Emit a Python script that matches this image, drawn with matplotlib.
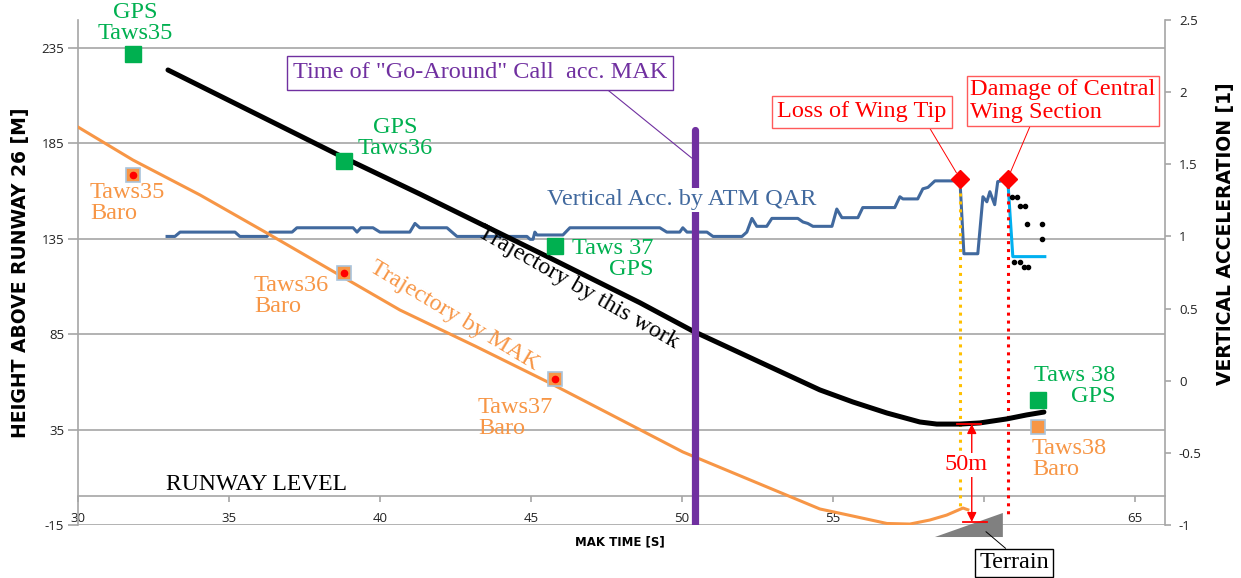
import matplotlib
matplotlib.use('Agg')
import matplotlib.pyplot as plt
from matplotlib.patches import Polygon

# ---------------- data ----------------
# Trajectory by this work (MAK time [s], height above RWY 26 [m])
work_t = [32.98, 38.81, 41.32, 45.63, 48.61, 50.36, 52.58, 54.57, 55.66, 56.79,
          57.88, 58.44, 59.21, 59.87, 60.76, 61.42, 61.99]
work_h = [223.5, 177.5, 158.5, 125.0, 101.5, 86.7, 70.4, 55.8, 49.5, 43.7,
          39.0, 37.9, 37.9, 38.5, 40.6, 42.7, 44.2]

# Trajectory by MAK
mak_t = [30.00, 31.82, 34.04, 36.26, 38.77, 40.66, 43.15, 45.63, 47.62, 50.03,
         52.58, 54.57, 55.66, 56.79, 57.55, 58.21, 58.77, 59.31, 59.47]
mak_h = [193.6, 176.3, 158.0, 138.0, 115.0, 97.7, 78.8, 59.4, 43.1, 23.3,
         6.5, -6.6, -10.3, -14.2, -14.5, -12.4, -9.8, -6.1, -7.0]

# Vertical acceleration by ATM QAR (right axis)
qar_t = [32.95, 33.21, 33.38, 35.20, 35.36, 36.26, 36.36, 37.09, 37.25, 39.11,
         39.24, 39.37, 39.77, 40.00, 40.99, 41.16, 41.32, 42.22, 42.55, 44.87,
         44.97, 45.07, 45.13, 45.20, 46.06, 46.29, 49.27, 49.50, 49.93, 50.03,
         50.17, 50.83, 51.03, 51.99, 52.15, 52.32, 52.48, 52.81, 52.98, 53.84,
         54.01, 54.17, 54.34, 54.97, 55.13, 55.30, 55.83, 55.99, 57.05, 57.22,
         57.32, 57.81, 57.98, 58.15, 58.38, 59.21, 59.34, 59.80, 59.97, 60.10,
         60.20, 60.36, 60.46, 60.70, 60.79]
qar_a = [1.00, 1.00, 1.03, 1.03, 1.00, 1.00, 1.03, 1.03, 1.06, 1.06,
         1.03, 1.06, 1.06, 1.03, 1.03, 1.09, 1.06, 1.06, 1.00, 1.00,
         0.98, 0.98, 1.03, 1.01, 1.01, 1.06, 1.06, 1.03, 1.03, 1.06,
         1.03, 1.03, 1.00, 1.00, 1.03, 1.125, 1.07, 1.07, 1.125, 1.125,
         1.10, 1.09, 1.07, 1.07, 1.19, 1.13, 1.13, 1.20, 1.20, 1.275,
         1.26, 1.26, 1.33, 1.34, 1.385, 1.385, 0.88, 0.88, 1.275, 1.24,
         1.31, 1.22, 1.38, 1.39, 1.40]

# after central wing damage
post_t = [60.79, 60.96, 62.02]
post_a = [1.40, 0.86, 0.86]
dots_t = [60.93, 61.09, 61.19, 61.36, 61.42, 61.92, 61.92, 61.00, 61.19, 61.33, 61.46]
dots_a = [1.275, 1.275, 1.21, 1.21, 1.085, 1.085, 0.98, 0.82, 0.82, 0.785, 0.785]

# events (loss of wing tip, damage of central wing section)
event_t = [59.21, 60.79]
event_a = [1.40, 1.40]
event_h_top = [163.0, 163.0]
event_h_bot = [-5.6, -9.8]

# TAWS points
gps_t = [31.82, 38.81, 45.79, 61.79]
gps_h = [231.9, 175.8, 131.2, 50.5]
baro_t = [31.82, 38.81, 45.79, 61.79]
baro_h = [168.2, 117.1, 61.5, 36.4]

go_around_t = 50.43
go_around_h = [-15, 192]

terrain_t = [58.38, 60.63, 60.63]
terrain_h = [-21.3, -8.7, -21.3]

min_t = 59.60
min_h = [37.9, -13.4]

xticks = [30, 35, 40, 45, 50, 55, 60, 65]
xticklabels = ['30', '35', '40', '45', '50', '55', '', '65']
yticks = [-15, 35, 85, 135, 185, 235]
y2ticks = [-1, -0.5, 0, 0.5, 1, 1.5, 2, 2.5]
y2ticklabels = ['-1', '-0.5', '0', '0.5', '1', '1.5', '2', '2.5']

# ---------------- style ----------------
GREEN = '#00B050'
ORANGE = '#F79646'
PURPLE = '#7030A0'
RED = '#FF0000'
BLUE = '#41699E'
CYAN = '#00B0F0'
GRID = '#A6A6A6'
SERIF = 'Liberation Serif'
FS = 17.5

W, H = 1241, 578
fig = plt.figure(figsize=(W / 100, H / 100), dpi=100)


def P(x, y):
    return (x / W, 1 - y / H)


ax = fig.add_axes([78 / W, 1 - 525 / H, (1165 - 78) / W, (525 - 20) / H])
ax2 = ax.twinx()

# lines
ax.plot(qar_t, qar_a, color=BLUE, lw=2.2, transform=ax2.transData, zorder=3)
ax.plot(post_t, post_a, color=CYAN, lw=2.2, transform=ax2.transData, zorder=3)
ax.plot(dots_t, dots_a, 'o', color='black', ms=3, transform=ax2.transData, zorder=3)
ax.plot(mak_t, mak_h, color=ORANGE, lw=2.2, zorder=4)
ax.plot(work_t, work_h, color='black', lw=3.6, zorder=5, solid_capstyle='round')
ax.plot([go_around_t, go_around_t], go_around_h, color=PURPLE, lw=5.2,
        solid_capstyle='round', zorder=6)

# event dotted lines
ax.plot([event_t[0]] * 2, [event_h_top[0], event_h_bot[0]], color='#FFC000',
        lw=2.2, ls=(0, (1, 1.6)), zorder=4)
ax.plot([event_t[1]] * 2, [event_h_top[1], event_h_bot[1]], color=RED,
        lw=2.2, ls=(0, (1, 1.6)), zorder=4)
ax.plot(event_t, event_a, 'D', color=RED, ms=9, transform=ax2.transData, zorder=7)

# TAWS markers
ax.plot(gps_t, gps_h, 's', color=GREEN, ms=12, mec=GREEN, ls='none', zorder=8)
ax.plot(baro_t, baro_h, 's', color=ORANGE, ms=10, mec='#A9C4DC', mew=1.2,
        ls='none', zorder=8)
ax.plot(baro_t[:3], baro_h[:3], 'o', color=RED, ms=4.5, ls='none', zorder=9)

# terrain
ax.add_patch(Polygon(list(zip(terrain_t, terrain_h)), closed=True,
                     facecolor='#808080', edgecolor='none', clip_on=False, zorder=6))

# 50 m clearance
ax.plot([min_t - 0.5, min_t + 0.3], [min_h[0]] * 2, color=RED, lw=1.3, zorder=9)
ax.plot([min_t - 0.3, min_t + 0.5], [min_h[1]] * 2, color=RED, lw=1.3, zorder=9)
ax.annotate('', xy=(min_t, min_h[0]), xytext=(min_t, min_h[1]),
            arrowprops=dict(arrowstyle='<|-|>', color=RED, lw=1.0,
                            shrinkA=0, shrinkB=0, mutation_scale=14), zorder=9)

# axes limits
ax.set_xlim(30, 66)
ax.set_ylim(-15, 249.7)
ax2.set_ylim(-1, 2.5)

# spines & grid
for s in ['top', 'right']:
    ax.spines[s].set_visible(False)
ax.spines['left'].set_color(GRID)
ax.spines['bottom'].set_color(GRID)
ax.spines['bottom'].set_position(('data', 0))
ax.spines['left'].set_linewidth(1.2)
ax.spines['bottom'].set_linewidth(1.2)
for s in ['top', 'left', 'bottom']:
    ax2.spines[s].set_visible(False)
ax2.spines['right'].set_color(GRID)
ax2.spines['right'].set_linewidth(1.2)

ax.set_yticks(yticks)
ax.set_yticklabels([str(v) for v in yticks])
ax.yaxis.grid(True, color=GRID, lw=1.2)
ax.set_axisbelow(True)
ax.set_xticks(xticks)
ax.set_xticklabels(xticklabels)
ax2.set_yticks(y2ticks)
ax2.set_yticklabels(y2ticklabels)

tick_font = dict(family='Open Sans', size=9.5)
ax.tick_params(axis='y', direction='out', length=7, width=1.2, color=GRID,
               pad=3, labelsize=9.5, labelcolor='#222222')
ax.tick_params(axis='x', direction='out', length=4, width=1.2, color=GRID,
               pad=7, labelsize=9.5, labelcolor='#222222')
ax2.tick_params(axis='y', direction='out', length=4, width=1.2, color=GRID,
                pad=6, labelsize=9.5, labelcolor='#222222')
for lab in ax.get_xticklabels() + ax.get_yticklabels() + ax2.get_yticklabels():
    lab.set_fontfamily('Open Sans')

# axis titles
fig.text(*P(21, 273), 'HEIGHT ABOVE RUNWAY 26 [M]', rotation=90, ha='center',
         va='center', fontweight='bold', fontsize=13.5, family='DejaVu Sans')
fig.text(*P(1225, 234), 'VERTICAL ACCELERATION [1]', rotation=90, ha='center',
         va='center', fontweight='bold', fontsize=13.5, family='DejaVu Sans')
fig.text(*P(620, 542), 'MAK TIME [S]', ha='center', va='center',
         fontweight='bold', fontsize=8.5, family='DejaVu Sans')

# annotation texts
def T(x, y, s, color, ha='center', va='center', **kw):
    kw.setdefault('fontsize', FS)
    return fig.text(*P(x, y), s, color=color, ha=ha, va=va, family=SERIF, **kw)


T(135, 23, 'GPS\nTaws35', GREEN, ma='center', linespacing=0.95)
T(395, 138, 'GPS\nTaws36', GREEN, ma='center', linespacing=0.95)
T(653, 259, 'Taws 37\nGPS', GREEN, ha='right', ma='right', linespacing=0.95)
T(1115, 386, 'Taws 38\nGPS', GREEN, ha='right', ma='right', linespacing=0.95)
T(90, 203, 'Taws35\nBaro', ORANGE, ha='left', ma='left', linespacing=0.95)
T(254, 296, 'Taws36\nBaro', ORANGE, ha='left', ma='left', linespacing=0.95)
T(478, 418, 'Taws37\nBaro', ORANGE, ha='left', ma='left', linespacing=0.95)
T(1032, 459, 'Taws38\nBaro', ORANGE, ha='left', ma='left', linespacing=0.95)
T(256, 485, 'RUNWAY LEVEL', 'black', fontsize=17)
T(547, 200, 'Vertical Acc. by ATM QAR', BLUE, ha='left', zorder=10,
  bbox=dict(facecolor='white', edgecolor='none', pad=1))
T(578, 287, 'Trajectory by this work', 'black', rotation=-29.7,
  rotation_mode='anchor')
T(454, 316, 'Trajectory by MAK', ORANGE, rotation=-31, rotation_mode='anchor')
T(966, 465, '50m', RED, zorder=10,
  bbox=dict(facecolor='white', edgecolor='none', pad=1))

# boxed call-outs with leader lines
ax.annotate('Time of "Go-Around" Call  acc. MAK', xy=(go_around_t - 0.1, 177.3),
            xycoords='data', xytext=P(480, 73), textcoords='figure fraction',
            ha='center', va='center', color=PURPLE, family=SERIF, fontsize=FS,
            bbox=dict(boxstyle='square,pad=0.25', facecolor='white',
                      edgecolor=PURPLE, lw=1),
            arrowprops=dict(arrowstyle='-', color=PURPLE, lw=0.8,
                            shrinkA=0, shrinkB=0, relpos=(0.82, 0)),
            annotation_clip=False, zorder=10)
ax.annotate('Loss of Wing Tip', xy=(event_t[0], event_a[0]),
            xycoords=ax2.transData, xytext=P(862, 112),
            textcoords='figure fraction', ha='center', va='center', color=RED,
            family=SERIF, fontsize=FS,
            bbox=dict(boxstyle='square,pad=0.22', facecolor='white',
                      edgecolor='#FF5A5A', lw=1),
            arrowprops=dict(arrowstyle='-', color=RED, lw=0.7, shrinkA=0,
                            shrinkB=5, relpos=(0.88, 0)),
            annotation_clip=False, zorder=10)
ax.annotate('Damage of Central\nWing Section', xy=(event_t[1], event_a[1]),
            xycoords=ax2.transData, xytext=P(1063, 101),
            textcoords='figure fraction', ha='center', va='center', color=RED,
            family=SERIF, fontsize=FS, ma='left', linespacing=1.1,
            bbox=dict(boxstyle='square,pad=0.12', facecolor='white',
                      edgecolor='#FF5A5A', lw=1),
            arrowprops=dict(arrowstyle='-', color=RED, lw=0.7, shrinkA=0,
                            shrinkB=5, relpos=(0.33, 0)),
            annotation_clip=False, zorder=10)
ax.annotate('Terrain', xy=(60.07, -18.5), xycoords='data', xytext=P(1014, 563),
            textcoords='figure fraction', ha='center', va='center',
            color='black', family=SERIF, fontsize=FS,
            bbox=dict(boxstyle='square,pad=0.15', facecolor='white',
                      edgecolor='black', lw=1),
            arrowprops=dict(arrowstyle='-', color='black', lw=0.7, shrinkA=0,
                            shrinkB=0, relpos=(0.45, 1)),
            annotation_clip=False, zorder=10)

fig.savefig('out.png', dpi=100)
